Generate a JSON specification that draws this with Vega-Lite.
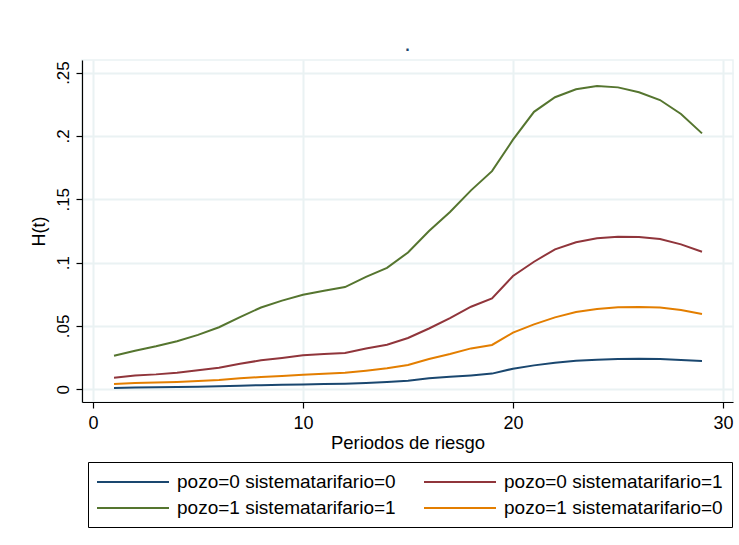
{
  "$schema": "https://vega.github.io/schema/vega-lite/v6.json",
  "width": 651,
  "height": 342,
  "autosize": {"type": "none"},
  "padding": {"left": 82, "top": 60, "right": 6, "bottom": 143},
  "background": "white",
  "title": {"text": ".", "color": "#1a476f", "fontSize": 16, "font": "Liberation Sans", "fontWeight": "bold", "offset": 6, "anchor": "middle"},
  "config": {
    "font": "Liberation Sans",
    "view": {"stroke": "#EAF2F3", "strokeWidth": 1.5}
  },
  "data": {
    "values": [
      {"serie": "pozo=0 sistematarifario=0", "t": 1, "h": 0.0011},
      {"serie": "pozo=0 sistematarifario=0", "t": 2, "h": 0.0015},
      {"serie": "pozo=0 sistematarifario=0", "t": 3, "h": 0.0016},
      {"serie": "pozo=0 sistematarifario=0", "t": 4, "h": 0.0018},
      {"serie": "pozo=0 sistematarifario=0", "t": 5, "h": 0.0021},
      {"serie": "pozo=0 sistematarifario=0", "t": 6, "h": 0.0025},
      {"serie": "pozo=0 sistematarifario=0", "t": 7, "h": 0.0029},
      {"serie": "pozo=0 sistematarifario=0", "t": 8, "h": 0.0033},
      {"serie": "pozo=0 sistematarifario=0", "t": 9, "h": 0.0037},
      {"serie": "pozo=0 sistematarifario=0", "t": 10, "h": 0.0039},
      {"serie": "pozo=0 sistematarifario=0", "t": 11, "h": 0.0042},
      {"serie": "pozo=0 sistematarifario=0", "t": 12, "h": 0.0045},
      {"serie": "pozo=0 sistematarifario=0", "t": 13, "h": 0.005},
      {"serie": "pozo=0 sistematarifario=0", "t": 14, "h": 0.0058},
      {"serie": "pozo=0 sistematarifario=0", "t": 15, "h": 0.0068},
      {"serie": "pozo=0 sistematarifario=0", "t": 16, "h": 0.0087},
      {"serie": "pozo=0 sistematarifario=0", "t": 17, "h": 0.0099},
      {"serie": "pozo=0 sistematarifario=0", "t": 18, "h": 0.011},
      {"serie": "pozo=0 sistematarifario=0", "t": 19, "h": 0.0124},
      {"serie": "pozo=0 sistematarifario=0", "t": 20, "h": 0.0163},
      {"serie": "pozo=0 sistematarifario=0", "t": 21, "h": 0.0189},
      {"serie": "pozo=0 sistematarifario=0", "t": 22, "h": 0.021},
      {"serie": "pozo=0 sistematarifario=0", "t": 23, "h": 0.0226},
      {"serie": "pozo=0 sistematarifario=0", "t": 24, "h": 0.0234},
      {"serie": "pozo=0 sistematarifario=0", "t": 25, "h": 0.0239},
      {"serie": "pozo=0 sistematarifario=0", "t": 26, "h": 0.0241},
      {"serie": "pozo=0 sistematarifario=0", "t": 27, "h": 0.0239},
      {"serie": "pozo=0 sistematarifario=0", "t": 28, "h": 0.0231},
      {"serie": "pozo=0 sistematarifario=0", "t": 29, "h": 0.0223},
      {"serie": "pozo=0 sistematarifario=1", "t": 1, "h": 0.0092},
      {"serie": "pozo=0 sistematarifario=1", "t": 2, "h": 0.011},
      {"serie": "pozo=0 sistematarifario=1", "t": 3, "h": 0.0118},
      {"serie": "pozo=0 sistematarifario=1", "t": 4, "h": 0.0131},
      {"serie": "pozo=0 sistematarifario=1", "t": 5, "h": 0.015},
      {"serie": "pozo=0 sistematarifario=1", "t": 6, "h": 0.0171},
      {"serie": "pozo=0 sistematarifario=1", "t": 7, "h": 0.0202},
      {"serie": "pozo=0 sistematarifario=1", "t": 8, "h": 0.0229},
      {"serie": "pozo=0 sistematarifario=1", "t": 9, "h": 0.0247},
      {"serie": "pozo=0 sistematarifario=1", "t": 10, "h": 0.0268},
      {"serie": "pozo=0 sistematarifario=1", "t": 11, "h": 0.0279},
      {"serie": "pozo=0 sistematarifario=1", "t": 12, "h": 0.0286},
      {"serie": "pozo=0 sistematarifario=1", "t": 13, "h": 0.0323},
      {"serie": "pozo=0 sistematarifario=1", "t": 14, "h": 0.0352},
      {"serie": "pozo=0 sistematarifario=1", "t": 15, "h": 0.0405},
      {"serie": "pozo=0 sistematarifario=1", "t": 16, "h": 0.048},
      {"serie": "pozo=0 sistematarifario=1", "t": 17, "h": 0.0562},
      {"serie": "pozo=0 sistematarifario=1", "t": 18, "h": 0.0652},
      {"serie": "pozo=0 sistematarifario=1", "t": 19, "h": 0.0718},
      {"serie": "pozo=0 sistematarifario=1", "t": 20, "h": 0.0894},
      {"serie": "pozo=0 sistematarifario=1", "t": 21, "h": 0.1007},
      {"serie": "pozo=0 sistematarifario=1", "t": 22, "h": 0.1105},
      {"serie": "pozo=0 sistematarifario=1", "t": 23, "h": 0.116},
      {"serie": "pozo=0 sistematarifario=1", "t": 24, "h": 0.1192},
      {"serie": "pozo=0 sistematarifario=1", "t": 25, "h": 0.1205},
      {"serie": "pozo=0 sistematarifario=1", "t": 26, "h": 0.1202},
      {"serie": "pozo=0 sistematarifario=1", "t": 27, "h": 0.1186},
      {"serie": "pozo=0 sistematarifario=1", "t": 28, "h": 0.1144},
      {"serie": "pozo=0 sistematarifario=1", "t": 29, "h": 0.1086},
      {"serie": "pozo=1 sistematarifario=1", "t": 1, "h": 0.0265},
      {"serie": "pozo=1 sistematarifario=1", "t": 2, "h": 0.0305},
      {"serie": "pozo=1 sistematarifario=1", "t": 3, "h": 0.034},
      {"serie": "pozo=1 sistematarifario=1", "t": 4, "h": 0.038},
      {"serie": "pozo=1 sistematarifario=1", "t": 5, "h": 0.043},
      {"serie": "pozo=1 sistematarifario=1", "t": 6, "h": 0.049},
      {"serie": "pozo=1 sistematarifario=1", "t": 7, "h": 0.057},
      {"serie": "pozo=1 sistematarifario=1", "t": 8, "h": 0.0646},
      {"serie": "pozo=1 sistematarifario=1", "t": 9, "h": 0.07},
      {"serie": "pozo=1 sistematarifario=1", "t": 10, "h": 0.0746},
      {"serie": "pozo=1 sistematarifario=1", "t": 11, "h": 0.0778},
      {"serie": "pozo=1 sistematarifario=1", "t": 12, "h": 0.0807},
      {"serie": "pozo=1 sistematarifario=1", "t": 13, "h": 0.0888},
      {"serie": "pozo=1 sistematarifario=1", "t": 14, "h": 0.0959},
      {"serie": "pozo=1 sistematarifario=1", "t": 15, "h": 0.108},
      {"serie": "pozo=1 sistematarifario=1", "t": 16, "h": 0.125},
      {"serie": "pozo=1 sistematarifario=1", "t": 17, "h": 0.14},
      {"serie": "pozo=1 sistematarifario=1", "t": 18, "h": 0.157},
      {"serie": "pozo=1 sistematarifario=1", "t": 19, "h": 0.1722},
      {"serie": "pozo=1 sistematarifario=1", "t": 20, "h": 0.197},
      {"serie": "pozo=1 sistematarifario=1", "t": 21, "h": 0.219},
      {"serie": "pozo=1 sistematarifario=1", "t": 22, "h": 0.2305},
      {"serie": "pozo=1 sistematarifario=1", "t": 23, "h": 0.2368},
      {"serie": "pozo=1 sistematarifario=1", "t": 24, "h": 0.2394},
      {"serie": "pozo=1 sistematarifario=1", "t": 25, "h": 0.2383},
      {"serie": "pozo=1 sistematarifario=1", "t": 26, "h": 0.2344},
      {"serie": "pozo=1 sistematarifario=1", "t": 27, "h": 0.2283},
      {"serie": "pozo=1 sistematarifario=1", "t": 28, "h": 0.2173},
      {"serie": "pozo=1 sistematarifario=1", "t": 29, "h": 0.202},
      {"serie": "pozo=1 sistematarifario=0", "t": 1, "h": 0.0042},
      {"serie": "pozo=1 sistematarifario=0", "t": 2, "h": 0.005},
      {"serie": "pozo=1 sistematarifario=0", "t": 3, "h": 0.0053},
      {"serie": "pozo=1 sistematarifario=0", "t": 4, "h": 0.0058},
      {"serie": "pozo=1 sistematarifario=0", "t": 5, "h": 0.0066},
      {"serie": "pozo=1 sistematarifario=0", "t": 6, "h": 0.0074},
      {"serie": "pozo=1 sistematarifario=0", "t": 7, "h": 0.0087},
      {"serie": "pozo=1 sistematarifario=0", "t": 8, "h": 0.0097},
      {"serie": "pozo=1 sistematarifario=0", "t": 9, "h": 0.0105},
      {"serie": "pozo=1 sistematarifario=0", "t": 10, "h": 0.0116},
      {"serie": "pozo=1 sistematarifario=0", "t": 11, "h": 0.0123},
      {"serie": "pozo=1 sistematarifario=0", "t": 12, "h": 0.0131},
      {"serie": "pozo=1 sistematarifario=0", "t": 13, "h": 0.0147},
      {"serie": "pozo=1 sistematarifario=0", "t": 14, "h": 0.0166},
      {"serie": "pozo=1 sistematarifario=0", "t": 15, "h": 0.0192},
      {"serie": "pozo=1 sistematarifario=0", "t": 16, "h": 0.0239},
      {"serie": "pozo=1 sistematarifario=0", "t": 17, "h": 0.0279},
      {"serie": "pozo=1 sistematarifario=0", "t": 18, "h": 0.0323},
      {"serie": "pozo=1 sistematarifario=0", "t": 19, "h": 0.035},
      {"serie": "pozo=1 sistematarifario=0", "t": 20, "h": 0.0447},
      {"serie": "pozo=1 sistematarifario=0", "t": 21, "h": 0.0513},
      {"serie": "pozo=1 sistematarifario=0", "t": 22, "h": 0.0568},
      {"serie": "pozo=1 sistematarifario=0", "t": 23, "h": 0.061},
      {"serie": "pozo=1 sistematarifario=0", "t": 24, "h": 0.0634},
      {"serie": "pozo=1 sistematarifario=0", "t": 25, "h": 0.0647},
      {"serie": "pozo=1 sistematarifario=0", "t": 26, "h": 0.065},
      {"serie": "pozo=1 sistematarifario=0", "t": 27, "h": 0.0645},
      {"serie": "pozo=1 sistematarifario=0", "t": 28, "h": 0.0626},
      {"serie": "pozo=1 sistematarifario=0", "t": 29, "h": 0.0594}
    ]
  },
  "mark": {"type": "line", "strokeWidth": 2, "interpolate": "linear"},
  "encoding": {
    "x": {
      "field": "t", "type": "quantitative",
      "scale": {"domain": [-0.524, 30.476], "nice": false, "zero": false},
      "axis": {
        "values": [0, 10, 20, 30], "title": "Periodos de riesgo",
        "grid": true, "gridColor": "#EAF2F3", "gridWidth": 2,
        "domainColor": "black", "domainWidth": 1.2,
        "tickColor": "black", "tickSize": 6, "tickWidth": 1.2,
        "labelFontSize": 18, "labelColor": "black", "labelPadding": 6,
        "titleFontSize": 18.5, "titleFontWeight": "normal", "titleColor": "black", "titlePadding": 1,
        "labelFlush": false
      }
    },
    "y": {
      "field": "h", "type": "quantitative",
      "scale": {"domain": [-0.01, 0.2599], "nice": false, "zero": false},
      "axis": {
        "values": [0, 0.05, 0.1, 0.15, 0.2, 0.25], "title": "H(t)",
        "labelExpr": "datum.value == 0 ? '0' : replace(format(datum.value, '.2~f'), '0.', '.')",
        "grid": true, "gridColor": "#EAF2F3", "gridWidth": 2,
        "domainColor": "black", "domainWidth": 1.2,
        "tickColor": "black", "tickSize": 6, "tickWidth": 1.2,
        "labelAngle": -90, "labelAlign": "center", "labelBaseline": "bottom",
        "labelFontSize": 17, "labelColor": "black", "labelPadding": 4,
        "titleFontSize": 18, "titleFontWeight": "normal", "titleColor": "black", "titlePadding": 6,
        "labelFlush": false
      }
    },
    "color": {
      "field": "serie", "type": "nominal",
      "scale": {
        "domain": ["pozo=0 sistematarifario=0", "pozo=0 sistematarifario=1", "pozo=1 sistematarifario=1", "pozo=1 sistematarifario=0"],
        "range": ["#1a476f", "#90353b", "#55752f", "#e37e00"]
      },
      "legend": {
        "title": null, "orient": "none", "legendX": 6, "legendY": 402,
        "direction": "horizontal",
        "columns": 2, "columnPadding": 24, "rowPadding": 5,
        "symbolType": "M-3.6,0H3.6", "symbolSize": 400, "symbolStrokeWidth": 2, "symbolOffset": 25,
        "labelFontSize": 19, "labelColor": "black", "labelOffset": 33, "labelLimit": 400,
        "strokeColor": "black", "fillColor": "white", "padding": 9
      }
    }
  }
}
